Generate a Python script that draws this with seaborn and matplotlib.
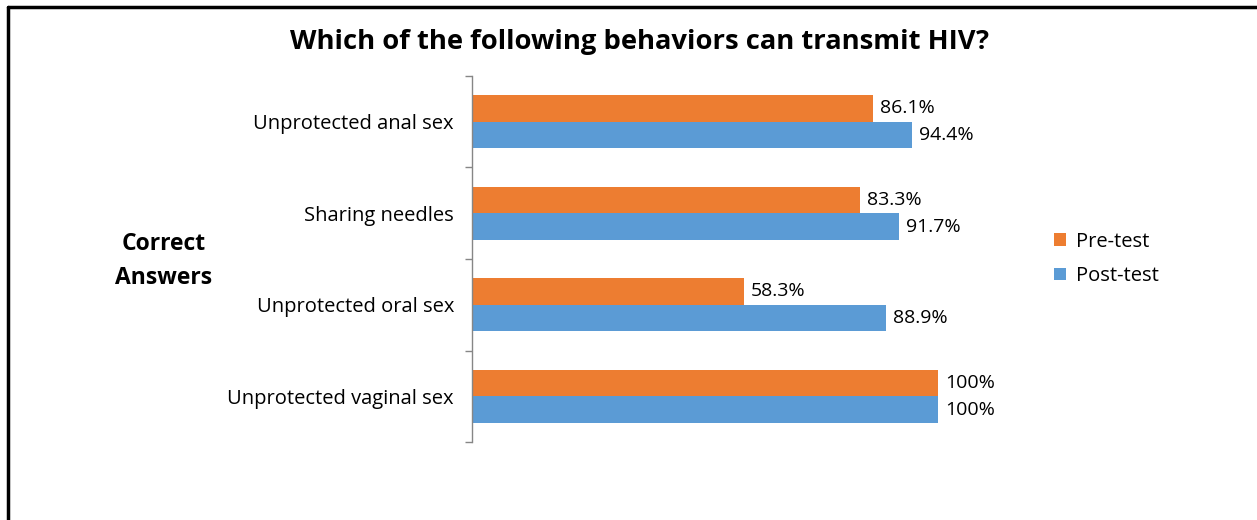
import matplotlib
matplotlib.use("Agg")
import matplotlib.pyplot as plt
from matplotlib.lines import Line2D
from matplotlib.patches import Patch
import seaborn as sns
import pandas as pd

behaviors = ["Unprotected anal sex", "Sharing needles", "Unprotected oral sex", "Unprotected vaginal sex"]
pre_test = [86.1, 83.3, 58.3, 100]
post_test = [94.4, 91.7, 88.9, 100]
series = ["Pre-test", "Post-test"]
colors = ["#ED7D31", "#5B9BD5"]

df = pd.DataFrame({
    "behavior": behaviors * 2,
    "value": pre_test + post_test,
    "test": [series[0]] * len(behaviors) + [series[1]] * len(behaviors),
})

sns.set_style("white")
plt.rcParams["font.family"] = ["Open Sans", "DejaVu Sans"]
plt.rcParams["text.color"] = "black"

W, H = 1257, 520
fig = plt.figure(figsize=(W / 100, H / 100), dpi=100)
ax = fig.add_axes([472 / W, 1 - 442 / H, (938 - 472) / W, (442 - 76) / H])

sns.barplot(data=df, y="behavior", x="value", hue="test", order=behaviors,
            hue_order=series, palette=colors, orient="h", width=0.58,
            gap=0, saturation=1, ax=ax, legend=False, errorbar=None, linewidth=0)

ax.set_xlim(0, 100)
ax.set_ylim(3.5, -0.5)
ax.set_xlabel("")
ax.set_ylabel("")
ax.set_xticks([])
for s in ["top", "right", "bottom"]:
    ax.spines[s].set_visible(False)
ax.spines["left"].set_color("#868686")
ax.spines["left"].set_linewidth(1)

ax.tick_params(axis="y", which="major", left=False, length=0, pad=13, labelsize=14.5, labelcolor="black")
ax.set_yticks([i - 0.5 for i in range(len(behaviors) + 1)], minor=True)
ax.tick_params(axis="y", which="minor", left=True, length=5, color="#868686", width=1)

def fmt(v):
    return "100%" if v == 100 else f"{v:.1f}%"

for cont, vals in zip(ax.containers, [pre_test, post_test]):
    ax.bar_label(cont, labels=[fmt(v) for v in vals], padding=5, fontsize=14, color="black", clip_on=False)

fig.text(640 / W, 1 - 42 / H, "Which of the following behaviors can transmit HIV?",
         ha="center", va="center", fontsize=19.7, fontweight="bold", color="black")
fig.text(164 / W, 1 - 261 / H, "Correct\nAnswers", ha="center", va="center",
         fontsize=16.5, fontweight="bold", linespacing=1.6, color="black")

handles = [Patch(facecolor=c, edgecolor="none", label=s) for c, s in zip(colors, series)]
leg = fig.legend(handles=handles, loc="center left", bbox_to_anchor=(1036 / W, 1 - 259 / H),
                 frameon=False, fontsize=14.5, handlelength=0.6, handleheight=0.6,
                 handletextpad=0.5, labelspacing=0.7)

fig.add_artist(Line2D([8 / W, 8 / W], [0, 1 - 7 / H], color="black", lw=2.5, transform=fig.transFigure))
fig.add_artist(Line2D([8 / W, 1], [1 - 7 / H, 1 - 7 / H], color="black", lw=2.5, transform=fig.transFigure))

fig.savefig("out.png", dpi=100, facecolor="white")
